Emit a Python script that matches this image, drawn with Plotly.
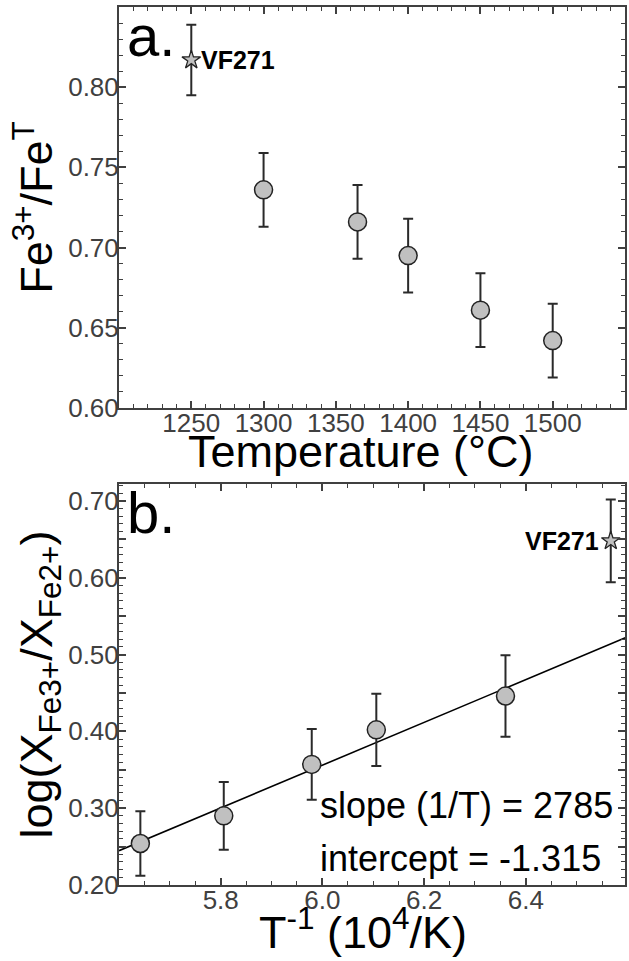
import plotly.graph_objects as go

# ---------------- data ----------------
# panel a: Fe3+/FeT vs temperature
temp_c = [1300, 1365, 1400, 1450, 1500]
fe_ratio = [0.736, 0.716, 0.695, 0.661, 0.642]
fe_ratio_err = [0.023, 0.023, 0.023, 0.023, 0.023]
vf_temp = [1250]
vf_ratio = [0.817]
vf_ratio_err = [0.022]

# panel b: log(XFe3+/XFe2+) vs 1/T
inv_t = [5.642, 5.806, 5.979, 6.106, 6.360]
log_ratio = [0.254, 0.290, 0.357, 0.402, 0.446]
log_err = [0.042, 0.044, 0.046, 0.047, 0.053]
vf_inv_t = [6.567]
vf_log = [0.648]
vf_log_err = [0.054]

fit_slope = 2785       # per 1/T (K)
fit_intercept = -1.315
fit_x = [5.6, 6.6]     # 10^4/K
fit_y = [fit_slope * 1e-4 * x + fit_intercept for x in fit_x]

# ticks
a_xticks = [1250, 1300, 1350, 1400, 1450, 1500]
a_yticks = [0.60, 0.65, 0.70, 0.75, 0.80]
b_xticks = [5.8, 6.0, 6.2, 6.4]
b_xticktext = ["5.8", "6.0", "6.2", "6.4"]
b_yticks = [0.20, 0.25, 0.30, 0.35, 0.40, 0.45, 0.50, 0.55, 0.60, 0.65, 0.70]
b_yticktext = ["0.20", " ", "0.30", " ", "0.40", " ", "0.50", " ", "0.60", " ", "0.70"]

# ---------------- style ----------------
FONT = "Liberation Sans, Arial, sans-serif"
AXC = "#404040"
MFILL = "#c0c0c0"
MLINE = "#222222"

fig = go.Figure()

err_style = dict(type="data", color="#2a2a2a", thickness=2, width=5)

fig.add_trace(go.Scatter(
    x=temp_c, y=fe_ratio, mode="markers",
    error_y=dict(array=fe_ratio_err, **err_style),
    marker=dict(symbol="circle", size=18, color=MFILL, line=dict(color=MLINE, width=1.5)),
    xaxis="x", yaxis="y", showlegend=False))
fig.add_trace(go.Scatter(
    x=vf_temp, y=vf_ratio, mode="markers",
    error_y=dict(array=vf_ratio_err, **err_style),
    marker=dict(symbol="star", size=14, color=MFILL, line=dict(color=MLINE, width=1.3)),
    xaxis="x", yaxis="y", showlegend=False))

fig.add_trace(go.Scatter(
    x=fit_x, y=fit_y, mode="lines",
    line=dict(color="black", width=1.6),
    xaxis="x2", yaxis="y2", showlegend=False))
fig.add_trace(go.Scatter(
    x=inv_t, y=log_ratio, mode="markers",
    error_y=dict(array=log_err, **err_style),
    marker=dict(symbol="circle", size=18, color=MFILL, line=dict(color=MLINE, width=1.5)),
    xaxis="x2", yaxis="y2", showlegend=False))
fig.add_trace(go.Scatter(
    x=vf_inv_t, y=vf_log, mode="markers",
    error_y=dict(array=vf_log_err, **err_style),
    marker=dict(symbol="star", size=14, color=MFILL, line=dict(color=MLINE, width=1.3)),
    xaxis="x2", yaxis="y2", showlegend=False))

common = dict(
    showline=True, linecolor=AXC, linewidth=2, mirror="allticks",
    ticks="inside", ticklen=7, tickwidth=1.5, tickcolor=AXC,
    showgrid=False, zeroline=False,
    tickfont=dict(family=FONT, size=26, color=AXC),
    title_font=dict(family=FONT, size=45, color="black"),
)
xcommon = dict(common, ticklabelstandoff=-9)
ycommon = dict(common, ticklabelstandoff=-7)
minor_style = dict(ticks="inside", ticklen=4, tickwidth=1.2, tickcolor=AXC, showgrid=False)

fig.update_layout(
    width=629, height=961,
    margin=dict(l=119, r=2, t=7, b=76),
    paper_bgcolor="white", plot_bgcolor="white",
    font=dict(family=FONT, color="black"),
    xaxis=dict(domain=[0, 1], anchor="y", range=[1200, 1550],
               tickvals=a_xticks, minor=dict(dtick=10, tick0=1200, **minor_style),
               **xcommon),
    yaxis=dict(domain=[0.5433, 1], anchor="x", range=[0.60, 0.85],
               tickvals=a_yticks, tickformat=".2f",
               minor=dict(dtick=0.01, tick0=0.60, **minor_style),
               title=dict(text="Fe<sup>3+</sup>/Fe<sup>T</sup>", standoff=1), **ycommon),
    xaxis2=dict(domain=[0, 1], anchor="y2", range=[5.6, 6.595],
                tickvals=b_xticks, ticktext=b_xticktext,
                minor=dict(dtick=0.05, tick0=5.6, **minor_style),
                **xcommon),
    yaxis2=dict(domain=[0, 0.4567], anchor="x2", range=[0.20, 0.722],
                tickvals=b_yticks, ticktext=b_yticktext,
                minor=dict(dtick=0.01, tick0=0.20, **minor_style),
                title=dict(text="log(X<sub>Fe3+</sub>/X<sub>Fe2+</sub>)", standoff=1), **ycommon),
)

annots = [
    # x-axis titles
    dict(text="Temperature (°C)", xref="x domain", yref="y domain", x=0.478, y=-0.108,
         xanchor="center", yanchor="middle", showarrow=False,
         font=dict(family=FONT, size=45, color="black")),
    dict(text="T<sup>-1</sup> (10<sup>4</sup>/K)", xref="x2 domain", yref="y2 domain",
         x=0.482, y=-0.11, xanchor="center", yanchor="middle", showarrow=False,
         font=dict(family=FONT, size=45, color="black")),
    # panel letters
    dict(text="a.", xref="x domain", yref="y domain", x=0.012, y=0.93,
         xanchor="left", yanchor="middle", showarrow=False,
         font=dict(family=FONT, size=58, color="black")),
    dict(text="b.", xref="x2 domain", yref="y2 domain", x=0.012, y=0.93,
         xanchor="left", yanchor="middle", showarrow=False,
         font=dict(family=FONT, size=58, color="black")),
    dict(text="<b>VF271</b>", xref="x", yref="y", x=vf_temp[0], y=vf_ratio[0],
         xanchor="left", yanchor="middle", xshift=8, showarrow=False,
         font=dict(family=FONT, size=25, color="black")),
    dict(text="<b>VF271</b>", xref="x2", yref="y2", x=vf_inv_t[0], y=vf_log[0],
         xanchor="right", yanchor="middle", xshift=-10, showarrow=False,
         font=dict(family=FONT, size=25, color="black")),
    dict(text=f"slope (1/T) = {fit_slope}", xref="x2 domain", yref="y2 domain",
         x=0.394, y=0.1995, xanchor="left", yanchor="middle", showarrow=False,
         font=dict(family=FONT, size=36, color="black")),
    dict(text=f"intercept = {fit_intercept:.3f}", xref="x2 domain", yref="y2 domain",
         x=0.394, y=0.0668, xanchor="left", yanchor="middle", showarrow=False,
         font=dict(family=FONT, size=36, color="black")),
]
fig.update_layout(annotations=annots)

fig.write_html("out.html")
